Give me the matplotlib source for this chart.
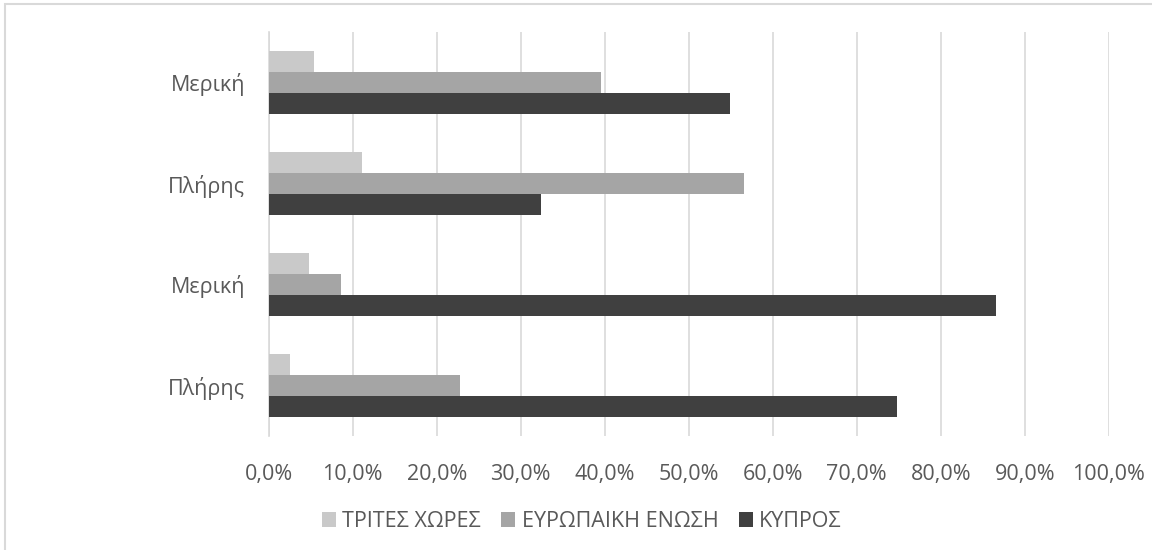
import matplotlib
matplotlib.use("Agg")
import matplotlib.pyplot as plt
import matplotlib.patches as mpatches
from matplotlib.ticker import FuncFormatter, MultipleLocator
import numpy as np

# Data (bottom to top as drawn)
categories = ["Πλήρης", "Μερική", "Πλήρης", "Μερική"]
series_names = ["ΤΡΙΤΕΣ ΧΩΡΕΣ", "ΕΥΡΩΠΑΙΚΗ ΕΝΩΣΗ", "ΚΥΠΡΟΣ"]
tritis = [2.5, 4.8, 11.1, 5.4]
europe = [22.8, 8.6, 56.6, 39.6]
kypros = [74.8, 86.6, 32.4, 54.9]
colors = ["#c9c9c9", "#a5a5a5", "#404040"]

plt.rcParams["font.family"] = ["Open Sans", "DejaVu Sans"]
text_color = "#595959"
grid_color = "#d9d9d9"
fs = 15.5

fig = plt.figure(figsize=(11.52, 5.5), dpi=100)
ax = fig.add_axes([268.7 / 1152, 1 - 436 / 550, 840 / 1152, 404 / 550])

y = np.arange(len(categories))
h = 0.208
ax.barh(y + h, tritis, height=h, color=colors[0], label=series_names[0], zorder=3)
ax.barh(y, europe, height=h, color=colors[1], label=series_names[1], zorder=3)
ax.barh(y - h, kypros, height=h, color=colors[2], label=series_names[2], zorder=3)

ax.set_xlim(0, 100)
ax.set_ylim(-0.5, len(categories) - 0.5)
ax.xaxis.set_major_locator(MultipleLocator(10))
ax.xaxis.set_major_formatter(FuncFormatter(lambda v, p: f"{v:.1f}%".replace(".", ",")))
ax.set_yticks(y)
ax.set_yticklabels(categories)

ax.grid(axis="x", color=grid_color, linewidth=1.2, zorder=0)
for s in ["top", "right", "bottom"]:
    ax.spines[s].set_visible(False)
ax.spines["left"].set_color(grid_color)
ax.spines["left"].set_linewidth(1.2)
ax.tick_params(axis="both", length=0, labelsize=fs, labelcolor=text_color)
ax.tick_params(axis="x", pad=20)
ax.tick_params(axis="y", pad=17)

fig.legend(loc="center", bbox_to_anchor=(0.505, 0.052), ncol=3, frameon=False,
           fontsize=fs, labelcolor=text_color, handlelength=0.65, handleheight=0.65,
           handletextpad=0.3, columnspacing=0.95)

# outer chart border
fig.patches.append(mpatches.Rectangle((5 / 1152, -0.1), 1.2, 1 - 4 / 550 + 0.1,
                                      transform=fig.transFigure, fill=False,
                                      edgecolor=grid_color, linewidth=1.5))

fig.savefig("out.png", dpi=100)
